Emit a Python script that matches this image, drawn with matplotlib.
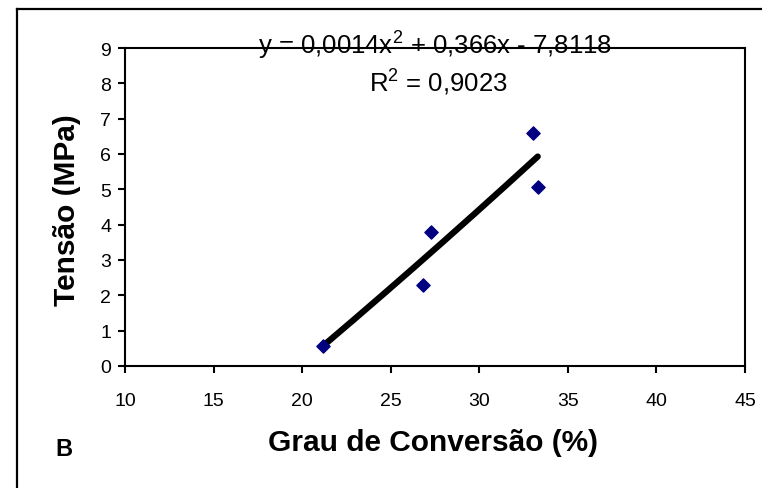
import matplotlib
matplotlib.use("Agg")
import matplotlib.pyplot as plt
from matplotlib.lines import Line2D
import numpy as np

conversao = [21.2, 26.8, 27.25, 33.05, 33.3]
tensao = [0.58, 2.3, 3.8, 6.6, 5.07]
coef = [0.0014, 0.366, -7.8118]
eq_text = "y = 0,0014x$^{2}$ + 0,366x - 7,8118"
r2_text = "R$^{2}$ = 0,9023"
xticks = [10, 15, 20, 25, 30, 35, 40, 45]
yticks = [0, 1, 2, 3, 4, 5, 6, 7, 8, 9]

plt.rcParams['font.family'] = ['Liberation Sans', 'DejaVu Sans']
plt.rcParams['mathtext.fontset'] = 'custom'
plt.rcParams['mathtext.rm'] = 'Liberation Sans'

W, H = 762, 489
fig = plt.figure(figsize=(W/100, H/100), dpi=100)
ax = fig.add_axes([125/W, 1-367/H, (745-125)/W, (367-49)/H])

xs = np.linspace(min(conversao), max(conversao), 200)
ys = np.polyval(coef, xs)
ax.plot(xs, ys, color='black', lw=4.5, solid_capstyle='round', zorder=2)
ax.scatter(conversao, tensao, marker='D', s=45, color='#000080', zorder=3)

ax.set_xlim(10, 45)
ax.set_ylim(0, 9)
ax.set_xticks(xticks)
ax.set_yticks(yticks)
ax.tick_params(direction='out', length=5, width=1.5, labelsize=14)
ax.tick_params(axis='x', pad=14)
ax.tick_params(axis='y', pad=5)
for s in ax.spines.values():
    s.set_linewidth(1.5)

fig.text(67/W, 1-210/H, "Tensão (MPa)", fontsize=21.5, fontweight='bold',
         rotation=90, ha='center', va='center')
fig.text(433/W, 1-443/H, "Grau de Conversão (%)", fontsize=21.5, fontweight='bold',
         ha='center', va='center')
fig.text(63.5/W, 1-450/H, "B", fontsize=17, fontweight='bold', ha='center', va='center')

fig.text(435/W, 1-45/H, eq_text, fontsize=18.5, ha='center', va='center')
fig.text(438/W, 1-82/H, r2_text, fontsize=18.5, ha='center', va='center')

fig.add_artist(Line2D([17/W, 17/W], [0, 1-9.5/H], color='black', lw=1.6, transform=fig.transFigure))
fig.add_artist(Line2D([17/W, 1], [1-9.5/H, 1-9.5/H], color='black', lw=1.6, transform=fig.transFigure))

fig.savefig("out.png", dpi=100)
